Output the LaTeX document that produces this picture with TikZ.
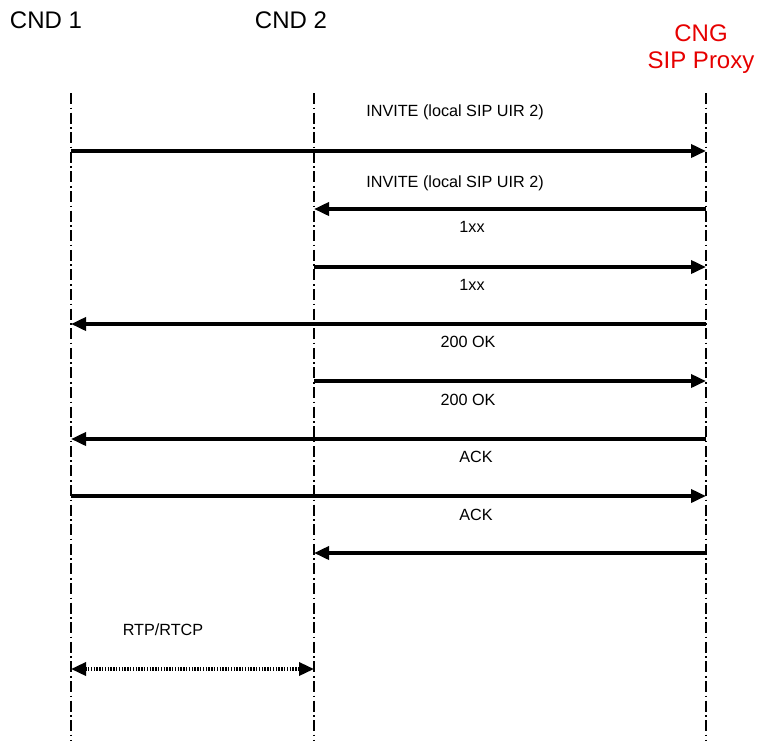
\documentclass[tikz,border=0pt]{standalone}
\usepackage{fontspec}
\setmainfont{Liberation Sans}
\usetikzlibrary{arrows.meta}
\definecolor{cngred}{RGB}{230,0,0}
\begin{document}
\begin{tikzpicture}[x=1pt,y=-1pt,
  lifeline/.style={line width=2.8pt,dash pattern=on 11pt off 3.5pt on 1.6pt off 3.5pt},
  msg/.style={line width=3.6pt,-{Triangle[length=15pt,width=13pt]}},
  rtp/.style={line width=3.4pt,dash pattern=on 1.4pt off 1.4pt,{Triangle[length=15pt,width=13pt]}-{Triangle[length=15pt,width=13pt]}},
  head/.style={font=\fontsize{24}{27}\selectfont,inner sep=0pt,align=center},
  lbl/.style={font=\fontsize{16.2}{19}\selectfont,inner sep=0pt}]
\useasboundingbox (0,0) rectangle (757,740);
% headers
\node[head] (h1) at (46,20) {CND 1};
\node[head] (h2) at (291,20) {CND 2};
\node[head,text=cngred] (h3) at (701,49) {CNG\\SIP Proxy};
% lifelines
\coordinate (t1) at (71,93);  \coordinate (b1) at (71,740);
\coordinate (t2) at (314,93); \coordinate (b2) at (314,740);
\coordinate (t3) at (706,93); \coordinate (b3) at (706,740);
\draw[lifeline] (t1) -- (b1);
\draw[lifeline] (t2) -- (b2);
\draw[lifeline] (t3) -- (b3);
% message endpoints
\coordinate (m1a) at (71,151);  \coordinate (m1b) at (706,151);
\coordinate (m2a) at (706,209); \coordinate (m2b) at (314,209);
\coordinate (m3a) at (314,267); \coordinate (m3b) at (706,267);
\coordinate (m4a) at (706,324); \coordinate (m4b) at (71,324);
\coordinate (m5a) at (314,381); \coordinate (m5b) at (706,381);
\coordinate (m6a) at (706,439); \coordinate (m6b) at (71,439);
\coordinate (m7a) at (71,496);  \coordinate (m7b) at (706,496);
\coordinate (m8a) at (706,553); \coordinate (m8b) at (314,553);
\coordinate (r1) at (71,669);   \coordinate (r2) at (314,669);
\draw[msg] (m1a) -- (m1b);
\draw[msg] (m2a) -- (m2b);
\draw[msg] (m3a) -- (m3b);
\draw[msg] (m4a) -- (m4b);
\draw[msg] (m5a) -- (m5b);
\draw[msg] (m6a) -- (m6b);
\draw[msg] (m7a) -- (m7b);
\draw[msg] (m8a) -- (m8b);
\draw[rtp] (r1) -- (r2);
% labels
\node[lbl] (l1) at (455,112) {INVITE (local SIP UIR 2)};
\node[lbl] (l2) at (455,183) {INVITE (local SIP UIR 2)};
\node[lbl] (l3) at (472,227) {1xx};
\node[lbl] (l4) at (472,285) {1xx};
\node[lbl] (l5) at (468,342) {200 OK};
\node[lbl] (l6) at (468,400) {200 OK};
\node[lbl] (l7) at (476,457) {ACK};
\node[lbl] (l8) at (476,515) {ACK};
\node[lbl] (l9) at (163,630) {RTP/RTCP};
\end{tikzpicture}
\end{document}
